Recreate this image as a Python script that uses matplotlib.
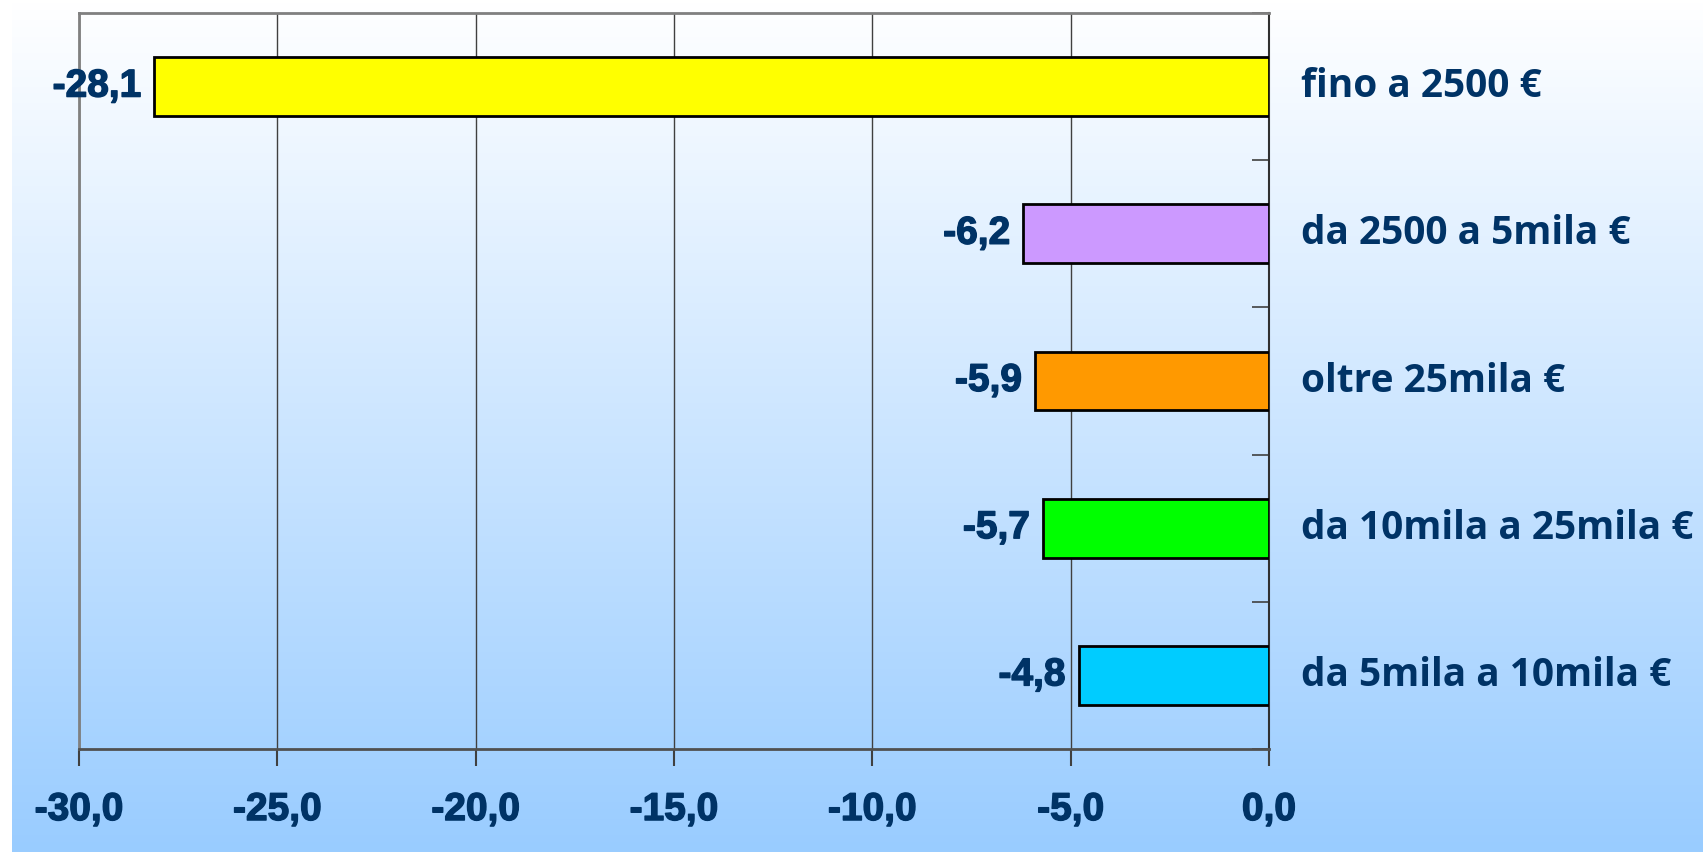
import numpy as np
import matplotlib.pyplot as plt
import matplotlib.patheffects as pe
from matplotlib.colors import LinearSegmentedColormap

categories = ["fino a 2500 €", "da 2500 a 5mila €", "oltre 25mila €",
              "da 10mila a 25mila €", "da 5mila a 10mila €"]
values = [-28.1, -6.2, -5.9, -5.7, -4.8]
colors = ["#FFFF00", "#CC99FF", "#FF9900", "#00FF00", "#00CCFF"]
xticks = [-30, -25, -20, -15, -10, -5, 0]

navy = "#003366"
heavy = [pe.withStroke(linewidth=1.0, foreground=navy)]

fig = plt.figure(figsize=(17.03, 8.52), dpi=100)
fig.patch.set_facecolor("white")

# background gradient, white at top to light blue at bottom
bg = fig.add_axes([12 / 1703, 0, 1 - 12 / 1703, 1], zorder=-10)
grad = np.linspace(0, 1, 256).reshape(-1, 1)
cmap = LinearSegmentedColormap.from_list("bg", ["#FFFFFF", "#99CCFF"])
bg.imshow(grad, aspect="auto", cmap=cmap, extent=[0, 1, 1, 0])
bg.axis("off")

ax = fig.add_axes([79 / 1703, 103 / 852, (1269 - 79) / 1703, (749 - 13) / 852])
ax.set_facecolor("none")

ypos = np.arange(len(categories))
ax.barh(ypos, values, height=0.4, color=colors, edgecolor="black", linewidth=2, zorder=3)

ax.set_xlim(-30, 0)
ax.set_ylim(len(categories) - 0.5, -0.5)
ax.set_xticks(xticks)
ax.set_xticklabels([f"{v:.1f}".replace(".", ",") for v in xticks],
                   fontsize=28, fontweight="bold", color=navy, family="Liberation Sans")
for lab in ax.get_xticklabels():
    lab.set_path_effects(heavy)
ax.tick_params(axis="x", length=12, width=1.5, color="#404040", pad=19)
ax.grid(axis="x", color="#404040", linewidth=1, zorder=1)

# y axis on the right, ticks between categories pointing inward
ax.yaxis.tick_right()
ax.set_yticks(np.arange(len(categories) + 1) - 0.5)
ax.set_yticklabels([])
ax.tick_params(axis="y", direction="in", length=12, width=1.2, color="#404040")

for name, sp in ax.spines.items():
    sp.set_linewidth(2)
    sp.set_color("#808080")
ax.spines["right"].set_color("#303030")
ax.spines["right"].set_linewidth(1.5)
ax.spines["bottom"].set_color("#505050")

for y, v, name in zip(ypos, values, categories):
    ax.annotate(f"{v:.1f}".replace(".", ","), (v, y), xytext=(-13, 0),
                textcoords="offset pixels", ha="right", va="center",
                fontsize=28, fontweight="bold", color=navy, family="Liberation Sans",
                path_effects=heavy)
    ax.annotate(name, (0, y), xytext=(32, 0), textcoords="offset pixels",
                ha="left", va="center", fontsize=28, fontweight="bold",
                color=navy, family="Open Sans", annotation_clip=False)

fig.savefig("out.png", dpi=100)
